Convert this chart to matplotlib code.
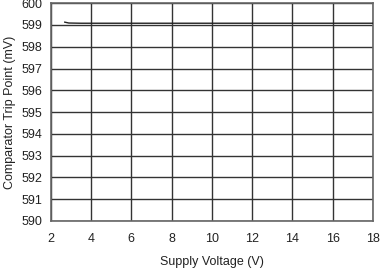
import matplotlib
matplotlib.use("Agg")
import matplotlib.pyplot as plt

supply_v = [2.7, 2.9, 3.5, 4, 6, 8, 10, 12, 14, 16, 18]
trip_mv = [599.13, 599.09, 599.08, 599.08, 599.08, 599.08, 599.08, 599.08, 599.08, 599.08, 599.08]
xticks = [2, 4, 6, 8, 10, 12, 14, 16, 18]
yticks = [590, 591, 592, 593, 594, 595, 596, 597, 598, 599, 600]

plt.rcParams['font.family'] = ['Liberation Sans', 'DejaVu Sans']
fig = plt.figure(figsize=(3.81, 2.68), dpi=100)
ax = fig.add_axes([0.133, 0.176, 0.846, 0.812])
ax.plot(supply_v, trip_mv, color='#222222', lw=1.0, zorder=3)
ax.set_xlim(2, 18)
ax.set_ylim(590, 600)
ax.set_xticks(xticks)
ax.set_yticks(yticks)
ax.grid(True, color='#333333', lw=1.0)
ax.tick_params(axis='x', length=0, labelsize=9, pad=9, colors='#222222')
ax.tick_params(axis='y', length=0, labelsize=9, pad=6, colors='#222222')
for s in ax.spines.values():
    s.set_color('#666666')
    s.set_linewidth(1.2)
ax.set_xlabel('Supply Voltage (V)', fontsize=9, color='#222222', labelpad=8)
ax.set_ylabel('Comparator Trip Point (mV)', fontsize=9, color='#222222', labelpad=4)
fig.savefig('out.png', dpi=100)
